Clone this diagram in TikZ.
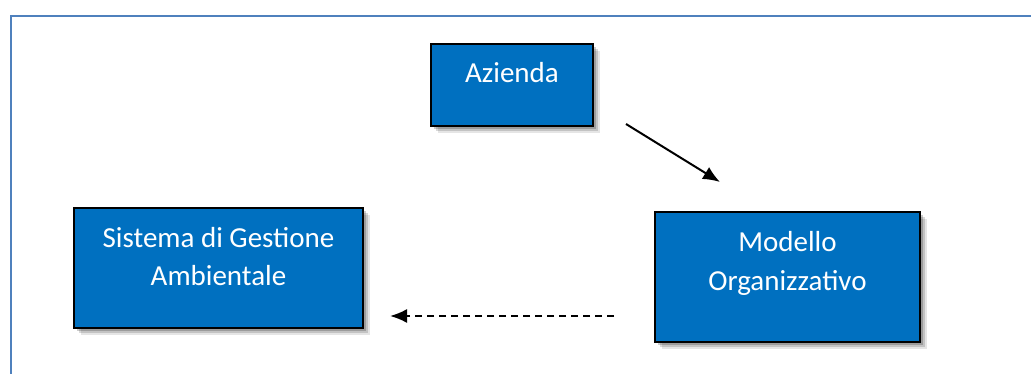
\documentclass[tikz,border=0pt]{standalone}
\usepackage{fontspec}
\setmainfont{Carlito}
\usetikzlibrary{arrows.meta,shadows}
\definecolor{frameblue}{RGB}{79,129,189}
\definecolor{boxblue}{RGB}{0,112,192}
% text of a box, first baseline at a fixed depth
\newcommand{\boxtxt}[3]{\parbox[c][#2][t]{#1}{\centering\rule{0pt}{39pt}#3}}
\tikzset{
    blok/.style={draw=black, line width=2pt, fill=boxblue, text=white, inner sep=0pt,
        font=\fontsize{29}{39}\selectfont,
        drop shadow={shadow xshift=3pt, shadow yshift=-3pt, opacity=0.2, fill=black},
        drop shadow={shadow xshift=5pt, shadow yshift=-5pt, opacity=0.15, fill=black},
        drop shadow={shadow xshift=7pt, shadow yshift=-7pt, opacity=0.1, fill=black}},
    pijl/.style={line width=2pt, -{Latex[length=17pt,width=14pt]}}
}
\begin{document}
\begin{tikzpicture}[x=1pt, y=-1pt]
    \useasboundingbox (0,0) rectangle (1031,374);
    \draw[frameblue, line width=2.5pt] (11,400) -- (11,16) -- (1060,16);
    \node[blok] (azienda) at (512,85) {\boxtxt{162pt}{82pt}{Azienda}};
    \node[blok] (sga) at (218.5,268) {\boxtxt{289pt}{120pt}{Sistema di Gestione\\Ambientale}};
    \node[blok] (modello) at (787.5,277) {\boxtxt{265pt}{130pt}{Modello\\Organizzativo}};
    \coordinate (p1) at (626,124);
    \coordinate (p2) at (720,182);
    \coordinate (q1) at (614,316);
    \coordinate (q2) at (390,316);
    \draw[pijl] (p1) -- (p2);
    \draw[pijl, dash pattern=on 7pt off 5pt] (q1) -- (q2);
\end{tikzpicture}
\end{document}
